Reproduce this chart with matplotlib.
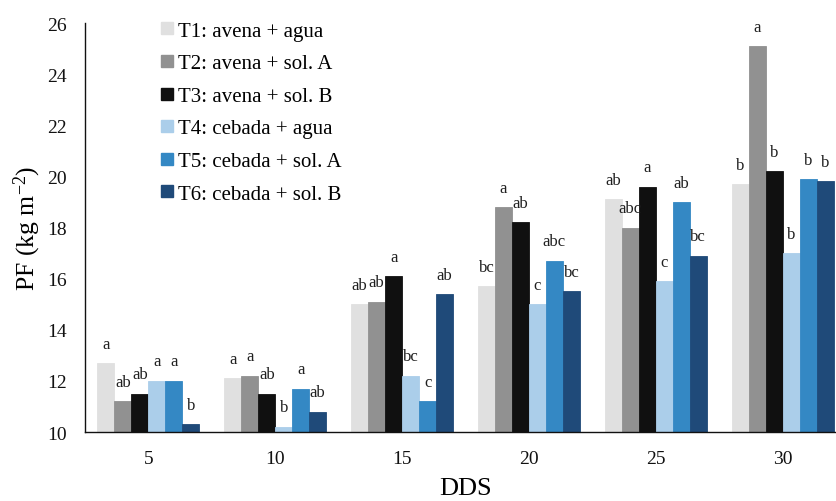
import matplotlib
matplotlib.use("Agg")
import matplotlib.pyplot as plt
from matplotlib.lines import Line2D
import numpy as np

plt.rcParams['font.family'] = ['Liberation Serif', 'DejaVu Serif']
plt.rcParams['mathtext.fontset'] = 'custom'
plt.rcParams['mathtext.rm'] = 'Liberation Serif'
plt.rcParams['mathtext.default'] = 'regular'

dds = ["5", "10", "15", "20", "25", "30"]
treatments = ["T1: avena + agua", "T2: avena + sol. A", "T3: avena + sol. B",
              "T4: cebada + agua", "T5: cebada + sol. A", "T6: cebada + sol. B"]

t1 = [12.7, 12.1, 15.0, 15.7, 19.1, 19.7]
t2 = [11.2, 12.2, 15.1, 18.8, 18.0, 25.1]
t3 = [11.5, 11.5, 16.1, 18.2, 19.6, 20.2]
t4 = [12.0, 10.2, 12.2, 15.0, 15.9, 17.0]
t5 = [12.0, 11.7, 11.2, 16.7, 19.0, 19.9]
t6 = [10.3, 10.8, 15.4, 15.5, 16.9, 19.8]

l1 = ["a", "a", "ab", "bc", "ab", "b"]
l2 = ["ab", "a", "ab", "a", "abc", "a"]
l3 = ["ab", "ab", "a", "ab", "a", "b"]
l4 = ["a", "b", "bc", "c", "c", "b"]
l5 = ["a", "a", "c", "abc", "ab", "b"]
l6 = ["b", "ab", "ab", "bc", "bc", "b"]

series = [t1, t2, t3, t4, t5, t6]
letters = [l1, l2, l3, l4, l5, l6]
colors = ["#E0E0E0", "#919191", "#101010", "#ABCEEA", "#3488C4", "#1F4A79"]

W, H = 836, 502
fig = plt.figure(figsize=(W / 100, H / 100), dpi=100)
# plotting area runs past the right edge of the canvas
ax = fig.add_axes([85 / W, (H - 433) / H, 761 / W, (433 - 24) / H])

x = np.arange(len(dds))
bw = 0.134
for k, (vals, labs, c) in enumerate(zip(series, letters, colors)):
    pos = x + (k - 2.5) * bw
    ax.bar(pos, np.array(vals) - 10, bottom=10, width=bw, color=c,
           edgecolor=c, linewidth=0.6, zorder=2)
    for xp, v, s in zip(pos, vals, labs):
        ax.text(xp, v + 0.76, s, ha='center', va='center', fontsize=12,
                color='#202020')

ax.set_xlim(-0.5, 5.5)
ax.set_ylim(10, 26)
ax.set_yticks(np.arange(10, 27, 2))
ax.set_xticks(x)
ax.set_xticklabels(dds)
ax.tick_params(axis='both', length=0, labelsize=14, pad=13, colors='#111111')
for s in ['top', 'right']:
    ax.spines[s].set_visible(False)
for s in ['left', 'bottom']:
    ax.spines[s].set_linewidth(1.0)
    ax.spines[s].set_color('#111111')

ax.set_ylabel("PF (kg m$^{-2}$)", fontsize=18.5, labelpad=3)
ax.set_xlabel("DDS", fontsize=19, labelpad=7)

handles = [Line2D([], [], marker='s', linestyle='none', markersize=8,
                  markerfacecolor=c, markeredgecolor=c) for c in colors]
ax.legend(handles, treatments, loc='upper left',
          bbox_to_anchor=(161 / W, (H - 22) / H), bbox_transform=fig.transFigure,
          frameon=False, fontsize=15, handlelength=0.58, handletextpad=0.24,
          labelspacing=0.625, borderaxespad=0, borderpad=0)

fig.savefig("out.png", dpi=100)
